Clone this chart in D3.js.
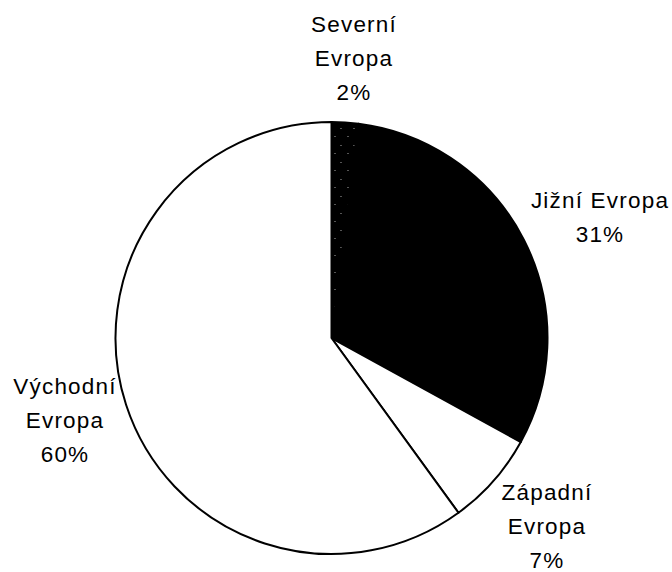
<!DOCTYPE html>
<html>
<head>
<meta charset="utf-8">
<script src="https://cdn.jsdelivr.net/npm/d3@7"></script>
<style>
  html, body { margin: 0; padding: 0; background: #fff; }
  svg { display: block; }
  text { font-family: "Liberation Sans", Arial, sans-serif; font-size: 22.5px; fill: #000; letter-spacing: 1.2px; }
</style>
</head>
<body>
<svg id="chart" width="672" height="572"></svg>
<script>
const regions = ["Severní Evropa", "Jižní Evropa", "Západní Evropa", "Východní Evropa"];
const shares = [2, 31, 7, 60];
const labelLines = [
  ["Severní", "Evropa", "2%"],
  ["Jižní Evropa", "31%"],
  ["Západní", "Evropa", "7%"],
  ["Východní", "Evropa", "60%"]
];

const W = 672, H = 572;
const cx = 331.5, cy = 338, r = 216;

const svg = d3.select("#chart");

// mostly black fill with a few light specks for the small slice
const defs = svg.append("defs");
const pat = defs.append("pattern")
  .attr("id", "speckle")
  .attr("patternUnits", "userSpaceOnUse")
  .attr("width", 13).attr("height", 17);
pat.append("rect").attr("width", 13).attr("height", 17).attr("fill", "#000");
[[3, 2], [9, 11]].forEach(p => {
  pat.append("rect").attr("x", p[0]).attr("y", p[1]).attr("width", 1).attr("height", 1).attr("fill", "#aaa");
});

const fills = ["url(#speckle)", "#000", "#fff", "#fff"];

const pie = d3.pie().sort(null).value(d => d);
const arcs = pie(shares);
const arc = d3.arc().innerRadius(0).outerRadius(r);

const g = svg.append("g").attr("transform", `translate(${cx},${cy})`);

g.selectAll("path.slice")
  .data(arcs)
  .join("path")
  .attr("class", "slice")
  .attr("d", arc)
  .attr("fill", (d, i) => fills[i])
  .attr("stroke", "#000")
  .attr("stroke-width", 2)
  .attr("stroke-linejoin", "round");

// label anchor points (center of the text block)
const labelPos = [[354, 58], [600, 217], [547, 526], [65, 420]];
const lineH = 34;

labelLines.forEach((lines, i) => {
  const [x, y] = labelPos[i];
  const t = svg.append("text")
    .attr("text-anchor", "middle")
    .attr("x", x)
    .attr("y", y - (lines.length - 1) * lineH / 2);
  lines.forEach((s, k) => {
    t.append("tspan")
      .attr("x", x)
      .attr("dy", k === 0 ? "0.35em" : lineH)
      .text(s);
  });
});
</script>
</body>
</html>
